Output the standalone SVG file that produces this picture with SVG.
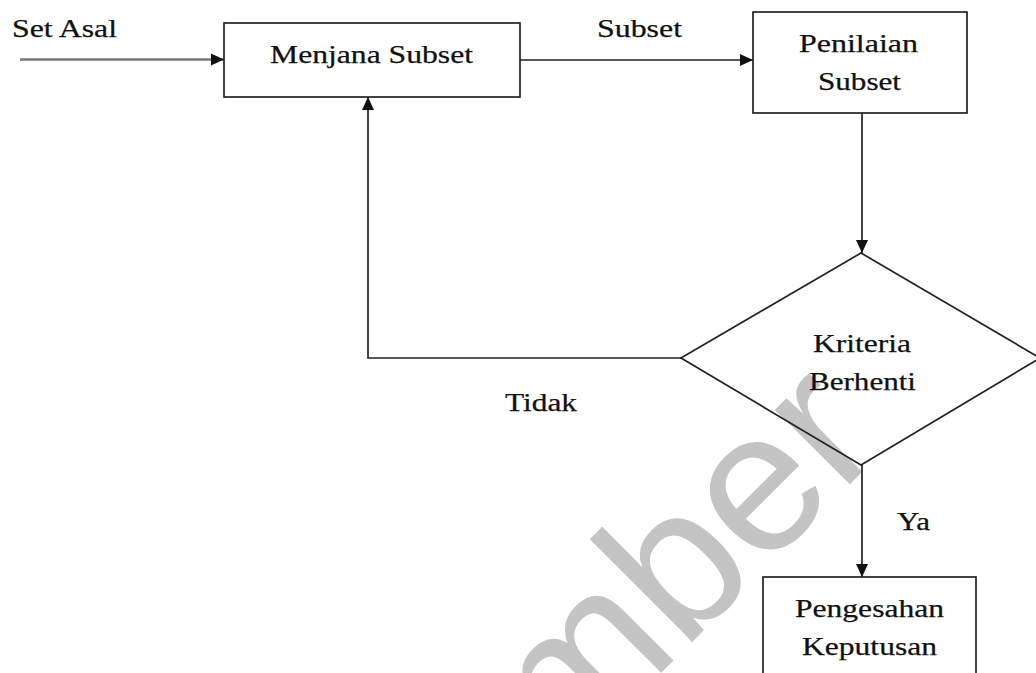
<svg xmlns="http://www.w3.org/2000/svg" width="1036" height="673" viewBox="0 0 1036 673">
<style>
.t{font-family:"Liberation Serif","Times New Roman",serif;font-size:25px;fill:#111;stroke:#111;stroke-width:0.25}
.box{fill:none;stroke:#222;stroke-width:1.7}
.ln{fill:none;stroke:#222;stroke-width:1.7}
.wm{font-family:"Liberation Sans",Arial,sans-serif;font-size:200px;fill:#c4c4c4}
</style>
<defs>
<marker id="ah" markerUnits="userSpaceOnUse" markerWidth="14" markerHeight="14" viewBox="0 0 14 14" refX="13" refY="7" orient="auto">
<path d="M0,1 L13,7 L0,13 Z" fill="#111"/>
</marker>
</defs>
<text class="wm" transform="translate(565,769) rotate(-45)">mber</text>
<g id="connectors">
<line x1="20" y1="59.5" x2="224" y2="59.5" stroke="#777" stroke-width="2.6" marker-end="url(#ah)"/>
<line class="ln" x1="520" y1="60" x2="753" y2="60" marker-end="url(#ah)"/>
<line class="ln" x1="862" y1="113" x2="862" y2="253" marker-end="url(#ah)"/>
<polyline class="ln" points="681,358 368,358 368,97" marker-end="url(#ah)"/>
<line class="ln" x1="862" y1="465" x2="862" y2="577" marker-end="url(#ah)"/>
<text class="t" x="12" y="37" textLength="105" lengthAdjust="spacingAndGlyphs">Set Asal</text>
<text class="t" x="597" y="37" textLength="85" lengthAdjust="spacingAndGlyphs">Subset</text>
<text class="t" x="505" y="411" textLength="72" lengthAdjust="spacingAndGlyphs">Tidak</text>
<text class="t" x="897" y="530" textLength="33" lengthAdjust="spacingAndGlyphs">Ya</text>
</g>
<g id="menjana">
<rect class="box" x="224" y="23" width="296" height="74"/>
<text class="t" x="270" y="63" textLength="203" lengthAdjust="spacingAndGlyphs">Menjana Subset</text>
</g>
<g id="penilaian">
<rect class="box" x="753" y="12" width="214" height="101"/>
<text class="t" x="799" y="52" textLength="119" lengthAdjust="spacingAndGlyphs">Penilaian</text>
<text class="t" x="818" y="90" textLength="83" lengthAdjust="spacingAndGlyphs">Subset</text>
</g>
<g id="kriteria">
<polygon class="box" points="861,253 1040,358 861,465 681,358"/>
<text class="t" x="813" y="352" textLength="98" lengthAdjust="spacingAndGlyphs">Kriteria</text>
<text class="t" x="809" y="390" textLength="107" lengthAdjust="spacingAndGlyphs">Berhenti</text>
</g>
<g id="pengesahan">
<rect class="box" x="763" y="577" width="213" height="110"/>
<text class="t" x="795" y="617" textLength="149" lengthAdjust="spacingAndGlyphs">Pengesahan</text>
<text class="t" x="802" y="655" textLength="135" lengthAdjust="spacingAndGlyphs">Keputusan</text>
</g>
</svg>
